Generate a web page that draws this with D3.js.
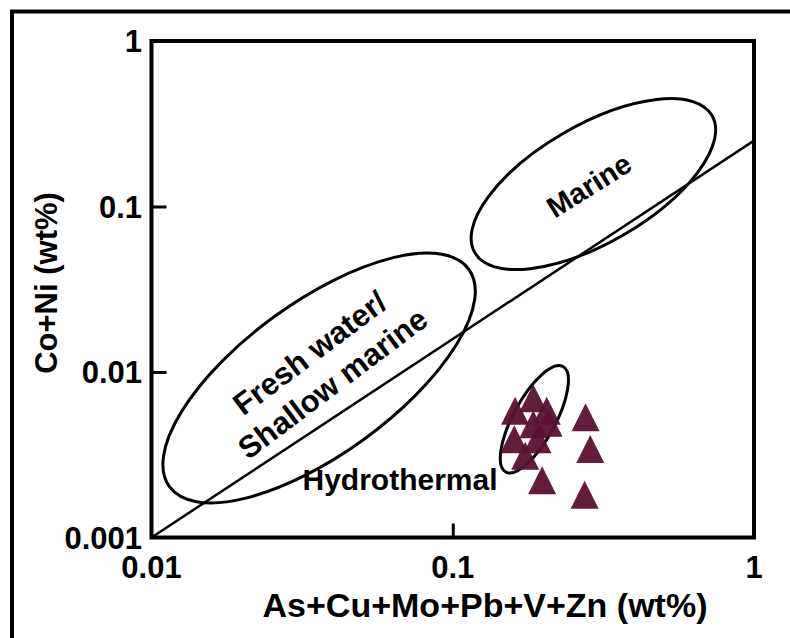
<!DOCTYPE html>
<html><head><meta charset="utf-8">
<script src="https://cdn.jsdelivr.net/npm/d3@7"></script>
<style>body{margin:0;background:#fff}svg{display:block}text{font-family:"Liberation Sans",Arial,sans-serif;font-weight:bold}</style>
</head><body><svg id="c" width="790" height="638"></svg>
<script>
// ---- data ----
const xTickValues = [0.01, 0.1, 1];
const xTickLabels = ["0.01", "0.1", "1"];
const yTickValues = [0.001, 0.01, 0.1, 1];
const yTickLabels = ["0.001", "0.01", "0.1", "1"];
const sampleX = [0.185, 0.161, 0.205, 0.191, 0.174, 0.160, 0.208, 0.185, 0.276, 0.286, 0.198, 0.274];
const sampleY = [0.0069, 0.0058, 0.0058, 0.0039, 0.0031, 0.0039, 0.0049, 0.0048, 0.0053, 0.0034, 0.0022, 0.0018];
const lineX = [0.01, 1];
const lineY = [0.001, 0.25];
const regionNames = ["Fresh water/|Shallow marine", "Marine", "Hydrothermal"];
const regionCX = [0.036, 0.293, 0.1866];
const regionCY = [0.0092, 0.1366, 0.00518];
const xTitle = "As+Cu+Mo+Pb+V+Zn (wt%)";
const yTitle = "Co+Ni (wt%)";

// ---- layout ----
const svg = d3.select("#c");
const L = 151.5, R = 754, T = 41, B = 537.5;
const x = d3.scaleLog().domain([0.01, 1]).range([L, R]);
const y = d3.scaleLog().domain([0.001, 1]).range([B, T]);

// outer frame
svg.append("rect").attr("x", 12).attr("y", 11.5).attr("width", 820).attr("height", 700)
  .attr("fill", "none").attr("stroke", "#000").attr("stroke-width", 4);

// regression line
svg.append("line").attr("x1", x(lineX[0])).attr("y1", y(lineY[0]))
  .attr("x2", x(lineX[1])).attr("y2", y(lineY[1]))
  .attr("stroke", "#000").attr("stroke-width", 2.5);

// ellipses
const ellGeom = [{rx: 185, ry: 76, a: -36}, {rx: 137, ry: 59, a: -30}, {rx: 60, ry: 21, a: -61.5}];
regionNames.forEach((n, i) => {
  const g = ellGeom[i];
  svg.append("ellipse")
    .attr("transform", `translate(${x(regionCX[i])},${y(regionCY[i])}) rotate(${g.a})`)
    .attr("rx", g.rx).attr("ry", g.ry)
    .attr("fill", "none").attr("stroke", "#000").attr("stroke-width", 3);
});

// triangles
const tri = "M0,-14.5L14,13.5L-14,13.5Z";
svg.append("g").selectAll("path").data(sampleX.map((v, i) => [v, sampleY[i]])).join("path")
  .attr("d", tri)
  .attr("transform", d => `translate(${x(d[0])},${y(d[1])})`)
  .attr("fill", "#5b1032").attr("fill-opacity", 0.95);

// region labels
{
  const cx = x(regionCX[0]) + 2, cy = y(regionCY[0]) - 10;
  const t = svg.append("text").attr("transform", `translate(${cx},${cy}) rotate(-37)`)
    .attr("text-anchor", "middle").attr("font-size", 31);
  regionNames[0].split("|").forEach((s, k) => t.append("tspan").attr("x", 0).attr("y", k === 0 ? -8 : 30).text(s));
}
svg.append("text").attr("transform", `translate(${x(regionCX[1]) + 1},${y(regionCY[1]) + 10}) rotate(-32)`)
  .attr("text-anchor", "middle").attr("font-size", 29).text(regionNames[1]);
svg.append("text").attr("x", 400).attr("y", 490).attr("text-anchor", "middle")
  .attr("font-size", 30).text(regionNames[2]);

// axes box
svg.append("rect").attr("x", L).attr("y", T).attr("width", R - L).attr("height", B - T)
  .attr("fill", "none").attr("stroke", "#000").attr("stroke-width", 4);

// ticks (inner)
const yAxis = d3.axisRight(y).tickValues(yTickValues.slice(1, 3)).tickSize(15).tickFormat("");
svg.append("g").attr("transform", `translate(${L},0)`).call(yAxis)
  .call(g => g.select(".domain").remove())
  .call(g => g.selectAll("line").attr("stroke-width", 3));
const xAxis = d3.axisTop(x).tickValues(xTickValues.slice(1, 2)).tickSize(14).tickFormat("");
svg.append("g").attr("transform", `translate(0,${B})`).call(xAxis)
  .call(g => g.select(".domain").remove())
  .call(g => g.selectAll("line").attr("stroke-width", 3));

// tick labels
yTickValues.forEach((v, i) => svg.append("text").attr("x", 142).attr("y", y(v)).attr("dy", "0.36em")
  .attr("text-anchor", "end").attr("font-size", 31).text(yTickLabels[i]));
xTickValues.forEach((v, i) => svg.append("text").attr("x", x(v)).attr("y", 578)
  .attr("text-anchor", "middle").attr("font-size", 31).text(xTickLabels[i]));

// titles
svg.append("text").attr("x", 485).attr("y", 617).attr("text-anchor", "middle")
  .attr("font-size", 34).text(xTitle);
svg.append("text").attr("transform", `translate(57,${283}) rotate(-90)`).attr("text-anchor", "middle")
  .attr("font-size", 31).text(yTitle);
</script></body></html>
